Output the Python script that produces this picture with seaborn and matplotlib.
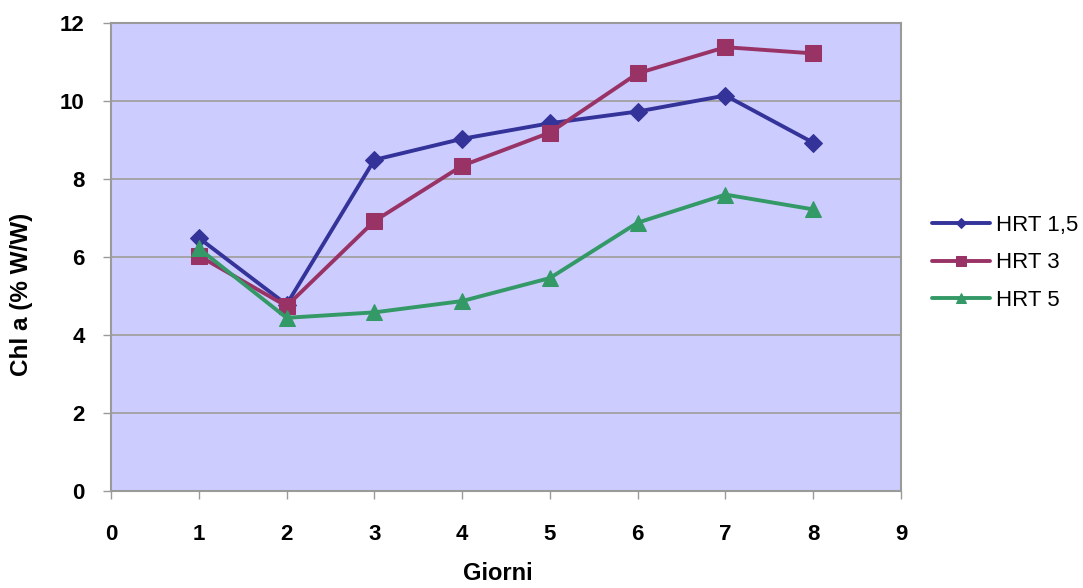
import numpy as np
import pandas as pd
import matplotlib
matplotlib.use("Agg")
import matplotlib.pyplot as plt
import seaborn as sns

giorni = [1, 2, 3, 4, 5, 6, 7, 8]
hrt_1_5 = [6.49, 4.78, 8.49, 9.03, 9.43, 9.73, 10.14, 8.93]
hrt_3 = [6.03, 4.74, 6.92, 8.34, 9.19, 10.71, 11.38, 11.22]
hrt_5 = [6.22, 4.44, 4.58, 4.87, 5.46, 6.88, 7.6, 7.22]
series_names = ["HRT 1,5", "HRT 3", "HRT 5"]
x_ticks = list(range(0, 10))
y_ticks = [0, 2, 4, 6, 8, 10, 12]

df = pd.DataFrame({
    "Giorni": giorni * 3,
    "Chl": hrt_1_5 + hrt_3 + hrt_5,
    "Serie": np.repeat(series_names, len(giorni)),
})

sns.set_theme(style="white")
plt.rcParams["font.family"] = ["Liberation Sans", "DejaVu Sans"]
plt.rcParams["text.color"] = "black"
plt.rcParams["axes.labelcolor"] = "black"
plt.rcParams["xtick.color"] = "black"
plt.rcParams["ytick.color"] = "black"

palette = {"HRT 1,5": "#333399", "HRT 3": "#993366", "HRT 5": "#339966"}
markers = {"HRT 1,5": "D", "HRT 3": "s", "HRT 5": "^"}
msize = {"HRT 1,5": 9, "HRT 3": 11, "HRT 5": 12}

fig = plt.figure(figsize=(10.83, 5.88), dpi=100)
ax = fig.add_axes([0.1025, 0.165, 0.7295, 0.7959])
ax.set_facecolor("#CCCCFF")

for name in series_names:
    sub = df[df["Serie"] == name]
    sns.lineplot(data=sub, x="Giorni", y="Chl", ax=ax, color=palette[name],
                 marker=markers[name], markersize=msize[name],
                 markeredgecolor=palette[name], linewidth=2.8, label=name,
                 legend=False)

ax.set_xlim(0, 9)
ax.set_ylim(0, 12)
ax.set_xticks(x_ticks)
ax.set_yticks(y_ticks)
ax.yaxis.grid(True, color="#A0A0A0", linewidth=1.3)
ax.set_axisbelow(True)
for s in ax.spines.values():
    s.set_color("#9A9A9A")
    s.set_linewidth(1.5)

ax.tick_params(axis="x", direction="out", length=6, width=1, color="#9A9A9A",
               labelcolor="black", pad=18, labelsize=16, bottom=True)
ax.tick_params(axis="y", direction="out", length=6, width=1, color="#9A9A9A",
               labelcolor="black", pad=13, labelsize=16, left=True)
for lab in ax.get_xticklabels() + ax.get_yticklabels():
    lab.set_fontweight("bold")

ax.set_xlabel("Giorni", fontsize=17, fontweight="bold")
ax.set_ylabel("Chl a (% W/W)", fontsize=17.5, fontweight="bold")
ax.xaxis.set_label_coords(0.49, -0.152, transform=ax.transAxes)
ax.xaxis.label.set_verticalalignment("top")
ax.yaxis.set_label_coords(-0.113, 0.42, transform=ax.transAxes)
ax.yaxis.label.set_verticalalignment("center")

handles, labels = ax.get_legend_handles_labels()
leg = fig.legend(handles, labels, loc="center left",
                 bbox_to_anchor=(0.842, 0.553), frameon=False,
                 fontsize=16, handlelength=2.6, labelspacing=0.75,
                 handletextpad=0.3, markerscale=0.6)

fig.savefig("out.png", dpi=100)
